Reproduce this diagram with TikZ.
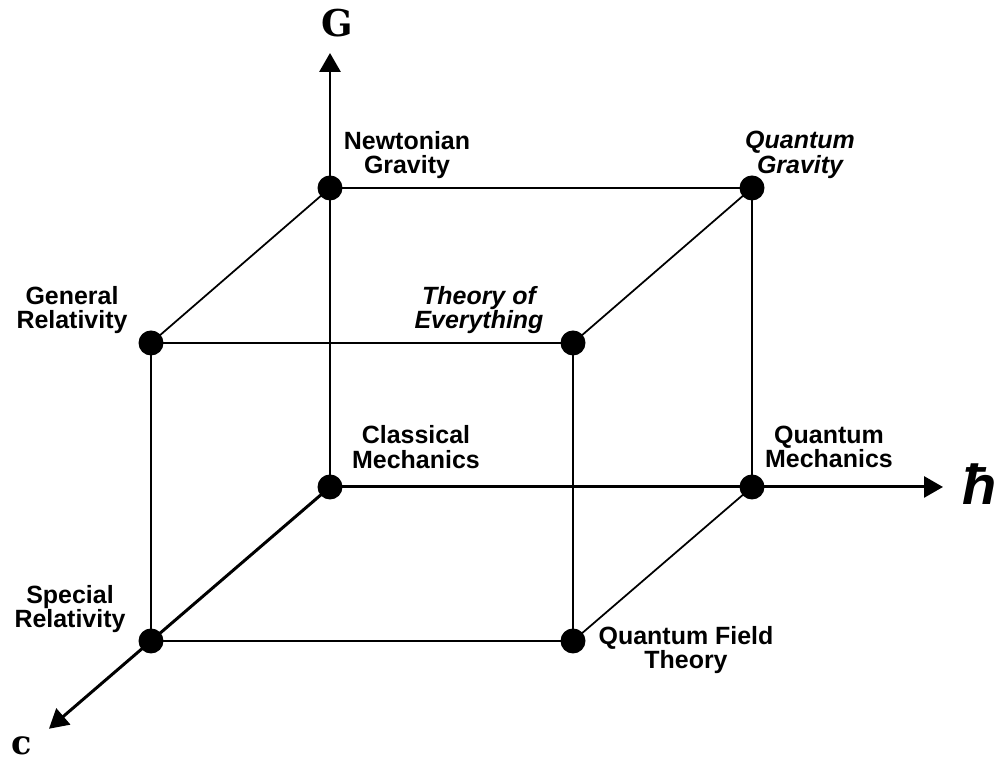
\documentclass[tikz,border=0pt]{standalone}
\usepackage{fontspec}
\newfontfamily\labelfont{Liberation Sans}
\newfontfamily\axisfont{DejaVu Serif}
\usepackage{tikz}
\usetikzlibrary{calc,arrows.meta}

\begin{document}
\begin{tikzpicture}[
    lbl/.style={font=\labelfont\bfseries\fontsize{7.1}{6.9}\selectfont, align=center, inner sep=0pt},
    ilbl/.style={lbl, font=\labelfont\bfseries\itshape\fontsize{7.1}{6.9}\selectfont},
    edge/.style={line width=0.5pt},
    axis/.style={line width=0.85pt, -{Triangle[length=0.19cm,width=0.21cm]}}
  ]
            \useasboundingbox (0,0) rectangle (9.98,7.60);
            % Các đỉnh của hình hộp
            \coordinate (O) at (3.30,2.73);
            \coordinate (QM) at (7.52,2.73);
            \coordinate (NG) at (3.30,5.72);
            \coordinate (QG) at (7.52,5.72);
            \coordinate (SR) at (1.51,1.19);
            \coordinate (QFT) at (5.73,1.19);
            \coordinate (GR) at (1.51,4.17);
            \coordinate (TOE) at (5.73,4.17);
            % Đầu mút các trục
            \coordinate (Gend) at (3.30,7.07);
            \coordinate (hend) at (9.43,2.73);
            \coordinate (cend) at ($(O)!1.57!(SR)$);
            % Các cạnh mảnh
            \draw[edge] (NG) -- (QG) -- (QM) -- (QFT) -- (SR) -- (GR) -- (NG);
            \draw[edge] (GR) -- (TOE) -- (QG);
            \draw[edge] (TOE) -- (QFT);
            % Ba trục
            \draw[axis] (O) -- (Gend);
            \draw[axis] (O) -- (hend);
            \draw[axis] (O) -- (cend);
            % Các điểm
            \foreach \p in {O,QM,NG,QG,SR,QFT,GR,TOE}
              \fill (\p) circle (0.125);
            % Nhãn trục
            \node[font=\axisfont\bfseries\fontsize{10.5}{10.5}\selectfont] (Glbl) at (3.37,7.37) {G};
            \node[font=\labelfont\bfseries\itshape\fontsize{16}{16}\selectfont, anchor=base] (hlbl) at (9.80,2.55) {ħ};
            \node[font=\axisfont\bfseries\fontsize{9.5}{9.5}\selectfont] (clbl) at (0.22,0.14) {c};
            % Nhãn các đỉnh
            \node[lbl] (NGlbl) at (4.07,6.05) {Newtonian\\Gravity};
            \node[ilbl] (QGlbl) at (8.00,6.05) {Quantum\\Gravity};
            \node[lbl] (GRlbl) at (0.72,4.50) {General\\Relativity};
            \node[ilbl] (TOElbl) at (4.79,4.50) {Theory of\\Everything};
            \node[lbl] (CMlbl) at (4.16,3.13) {Classical\\Mechanics};
            \node[lbl] (QMlbl) at (8.29,3.13) {Quantum\\Mechanics};
            \node[lbl] (SRlbl) at (0.70,1.51) {Special\\Relativity};
            \node[lbl] (QFTlbl) at (6.86,1.10) {Quantum Field\\Theory};
        \end{tikzpicture}
\end{document}
